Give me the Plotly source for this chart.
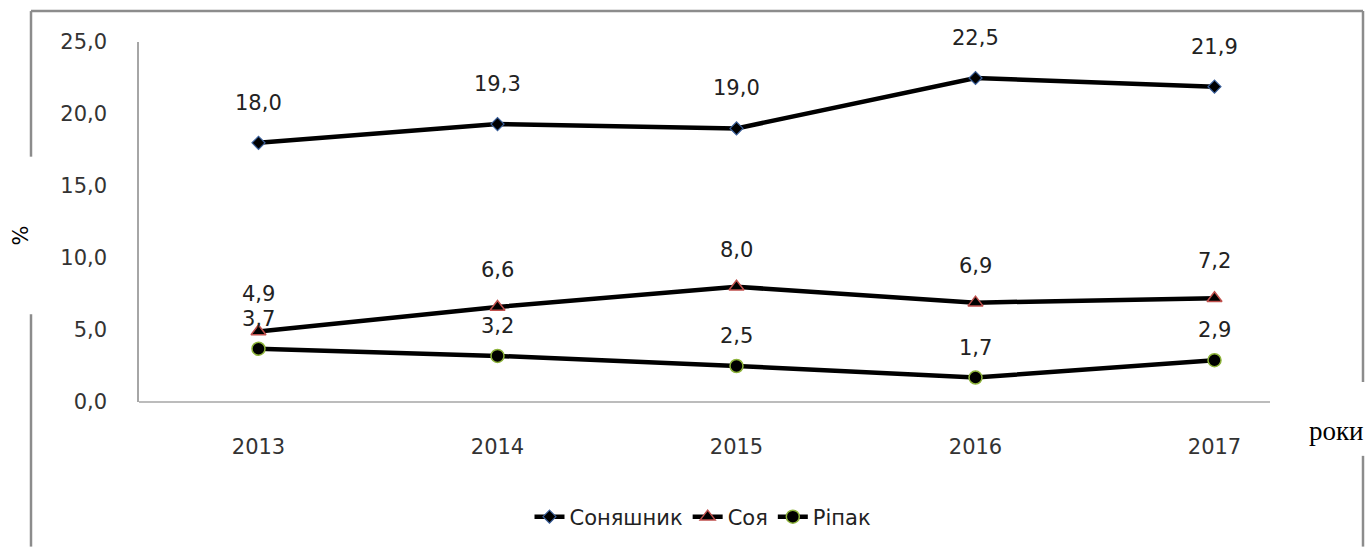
import plotly.graph_objects as go

# Share of oil crops, % by year
years = ["2013", "2014", "2015", "2016", "2017"]
sunflower = [18.0, 19.3, 19.0, 22.5, 21.9]
soy = [4.9, 6.6, 8.0, 6.9, 7.2]
rapeseed = [3.7, 3.2, 2.5, 1.7, 2.9]
series_names = ["Соняшник", "Соя", "Ріпак"]
y_ticks = [0, 5, 10, 15, 20, 25]

W, H = 1368, 548
L, R, T, B = 139, 34, 42, 145
PW, PH = W - L - R, H - T - B
FONT = "DejaVu Sans"


def px_x(p):
    return (p - L) / PW


def px_y(p):
    return (H - B - p) / PH


def fmt(v):
    return f"{v:.1f}".replace(".", ",")


fig = go.Figure()

styles = [
    (sunflower, dict(symbol="diamond", size=10, color="black",
                     line=dict(color="#3a5f9a", width=1.2)), 40),
    (soy, dict(symbol="triangle-up", size=13, color="black",
               line=dict(color="#c0504d", width=1.5)), 37),
    (rapeseed, dict(symbol="circle", size=13, color="black",
                    line=dict(color="#8db33a", width=1.5)), 30),
]

for name, (vals, marker, shift) in zip(series_names, styles):
    fig.add_trace(go.Scatter(
        x=years, y=vals, name=name, mode="lines+markers",
        line=dict(color="black", width=4.5),
        marker=marker,
    ))
    # value labels above each point (category index positions)
    for i, yv in enumerate(vals):
        fig.add_annotation(x=i, y=yv, xref="x", yref="y", text=fmt(yv),
                           showarrow=False, yshift=shift,
                           xanchor="center", yanchor="middle",
                           font=dict(size=21, color="#222", family=FONT))

# outer frame fragments
frame = "#8c8c8c"
segs = [
    (31, 11, 1363, 11),
    (31, 11, 31, 157),
    (31, 315, 31, 548),
    (1363, 11, 1363, 383),
    (1363, 457, 1363, 548),
]
for x0, y0, x1, y1 in segs:
    fig.add_shape(type="line", xref="paper", yref="paper",
                  x0=px_x(x0), y0=px_y(y0), x1=px_x(x1), y1=px_y(y1),
                  line=dict(color=frame, width=2.5))

# category axis baseline
fig.add_shape(type="line", xref="paper", yref="paper",
              x0=0, y0=0, x1=px_x(1270), y1=0,
              line=dict(color="#a6a6a6", width=1.5))

fig.add_annotation(xref="paper", yref="paper", x=px_x(21), y=px_y(236),
                   xanchor="center", yanchor="middle",
                   text="%", textangle=-90, showarrow=False,
                   font=dict(size=21, color="black", family=FONT))
fig.add_annotation(xref="paper", yref="paper", x=px_x(1336), y=px_y(432),
                   xanchor="center", yanchor="middle",
                   text="роки", showarrow=False,
                   font=dict(size=27, color="black", family="Liberation Serif"))

fig.update_layout(
    width=W, height=H,
    margin=dict(l=L, r=R, t=T, b=B),
    paper_bgcolor="white", plot_bgcolor="white",
    font=dict(family=FONT, size=21, color="#333"),
    showlegend=True,
    legend=dict(orientation="h", x=px_x(703), xanchor="center",
                y=px_y(517), yanchor="middle",
                font=dict(size=21, color="#222", family=FONT)),
    xaxis=dict(type="category", range=[-0.5, 4.5], showgrid=False,
               zeroline=False, showline=False, ticks="",
               ticklabelstandoff=30,
               tickfont=dict(size=21, color="#333", family=FONT)),
    yaxis=dict(range=[0, 25], tickvals=y_ticks,
               ticktext=[fmt(v) for v in y_ticks],
               showgrid=False, zeroline=False, showline=True,
               linecolor="#a6a6a6", linewidth=1.5, ticks="",
               ticklabelstandoff=26,
               tickfont=dict(size=21, color="#333", family=FONT)),
)

fig.write_html("out.html")
